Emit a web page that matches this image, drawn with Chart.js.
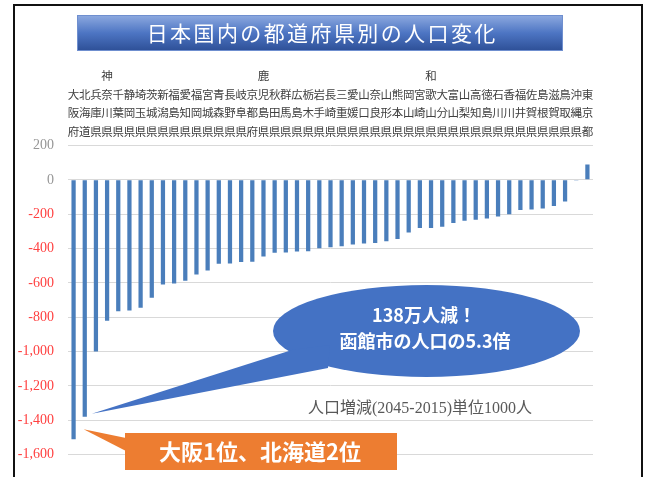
<!DOCTYPE html>
<html><head><meta charset="utf-8">
<script src="https://cdn.jsdelivr.net/npm/chart.js@4"></script>
<style>html,body{margin:0;padding:0;background:#fff;}#wrap{width:649px;height:477px;position:relative;}</style>
</head><body><div id="wrap"><canvas id="c" width="649" height="477"></canvas></div>
<script>
const prefectures = ['大阪府','北海道','兵庫県','神奈川県','千葉県','静岡県','埼玉県','茨城県','新潟県','福島県','愛知県','福岡県','宮城県','青森県','長野県','岐阜県','京都府','鹿児島県','秋田県','群馬県','広島県','栃木県','岩手県','長崎県','三重県','愛媛県','山口県','奈良県','山形県','熊本県','岡山県','宮崎県','和歌山県','大分県','富山県','山梨県','高知県','徳島県','石川県','香川県','福井県','佐賀県','島根県','滋賀県','鳥取県','沖縄県','東京都'];
const changes = [-1510,-1380,-1000,-820,-765,-761,-745,-686,-609,-603,-587,-551,-528,-489,-487,-479,-477,-447,-425,-423,-418,-416,-398,-392,-387,-377,-371,-368,-358,-344,-306,-281,-281,-273,-252,-238,-232,-225,-213,-201,-175,-173,-167,-153,-126,-4,90];
const yMin = -1600, yMax = 200, yStep = 200;
const titleText = '日本国内の都道府県別の人口変化';
const unitText = '人口増減(2045-2015)単位1000人';
const bubbleLines = ['138万人減！','函館市の人口の5.3倍'];
const rankText = '大阪1位、北海道2位';

const decor = {
  id:'decor',
  afterDraw(chart){
    const ctx = chart.ctx;
    const meta = chart.getDatasetMeta(0);
    const ys = chart.scales.y;
    ctx.save();
    ctx.font = '14px "Liberation Serif"';
    ctx.textAlign = 'right'; ctx.textBaseline = 'middle';
    ys.ticks.forEach(t => {
      ctx.fillStyle = t.value < 0 ? '#ff4040' : '#969696';
      ctx.fillText(Number(t.value).toLocaleString('en-US'), chart.chartArea.left - 14, ys.getPixelForValue(t.value));
    });
    ctx.strokeStyle = '#111'; ctx.lineWidth = 2;
    ctx.beginPath(); ctx.moveTo(14,480); ctx.lineTo(14,5); ctx.lineTo(642,5); ctx.lineTo(642,480); ctx.stroke();
    const g = ctx.createLinearGradient(0,15,0,51);
    g.addColorStop(0,'#8eaae0'); g.addColorStop(0.5,'#4d75c3'); g.addColorStop(1,'#2d4f96');
    ctx.fillStyle = g; ctx.fillRect(77,15,486,36);
    ctx.strokeStyle = '#6f8fcf'; ctx.lineWidth = 1; ctx.strokeRect(77.5,15.5,485,35);
    ctx.fillStyle = '#fff'; ctx.font = '21px "Noto Sans CJK JP"';
    ctx.textAlign = 'center'; ctx.textBaseline = 'middle';
    const chars = titleText.split(''); const pitch = 23.4;
    const start = 321 - pitch*chars.length/2;
    chars.forEach((ch,i)=>ctx.fillText(ch, start + pitch*(i+0.5), 33.5));
    const b2 = meta.data[1];
    const tipB = {x: b2.x + 7, y: ys.getPixelForValue(changes[1]) - 3};
    ctx.fillStyle = '#4472c4';
    ctx.beginPath(); ctx.ellipse(426.5,331,153.5,46,0,0,Math.PI*2); ctx.fill();
    ctx.beginPath(); ctx.moveTo(292,350); ctx.lineTo(tipB.x,tipB.y); ctx.lineTo(328,368); ctx.lineTo(330,345); ctx.closePath(); ctx.fill();
    ctx.fillStyle = '#fff'; ctx.font = 'bold 18px "Noto Sans CJK JP"';
    ctx.fillText(bubbleLines[0], 424, 315);
    ctx.fillText(bubbleLines[1], 425, 341);
    const b1 = meta.data[0];
    const tipO = {x: b1.x + 10, y: ys.getPixelForValue(changes[0]) - 10};
    ctx.fillStyle = '#ed7d31';
    ctx.fillRect(125,433,272,37);
    ctx.beginPath(); ctx.moveTo(126,438); ctx.lineTo(tipO.x,tipO.y); ctx.lineTo(126,451); ctx.closePath(); ctx.fill();
    ctx.fillStyle = '#fff'; ctx.font = 'bold 22px "Noto Sans CJK JP"';
    ctx.fillText(rankText, 260, 452);
    ctx.fillStyle = '#595959'; ctx.font = '16px "Liberation Serif","Noto Sans CJK JP"';
    ctx.textAlign = 'left';
    ctx.fillText(unitText, 308, 409);
    ctx.restore();
  }
};

new Chart(document.getElementById('c'), {
  type:'bar',
  data:{
    labels: prefectures.map(n=>n.split('')),
    datasets:[{data:changes, backgroundColor:'#4a7ebb', barPercentage:0.38, categoryPercentage:1}]
  },
  options:{
    responsive:false, animation:false,
    layout:{padding:{left:12,right:56,top:60,bottom:20}},
    plugins:{legend:{display:false}, tooltip:{enabled:false}},
    scales:{
      x:{position:'top', grid:{display:false, drawTicks:false}, border:{display:false},
        afterFit(s){ s.height = 85.5; },
        ticks:{autoSkip:false, maxRotation:0, minRotation:0, padding:5, color:'#404040',
          font:{family:'"Noto Sans CJK JP"', size:11.5, lineHeight:1.6}}},
      y:{min:yMin, max:yMax, grid:{color:'#d9d9d9', drawTicks:false}, border:{display:false},
        afterFit(s){ s.width = 56; },
        ticks:{stepSize:yStep, padding:14, color:'rgba(0,0,0,0)',
          font:{family:'"Liberation Serif"', size:14},
          callback:(v)=> Number(v).toLocaleString('en-US')}}
    }
  },
  plugins:[decor]
});
</script></body></html>
